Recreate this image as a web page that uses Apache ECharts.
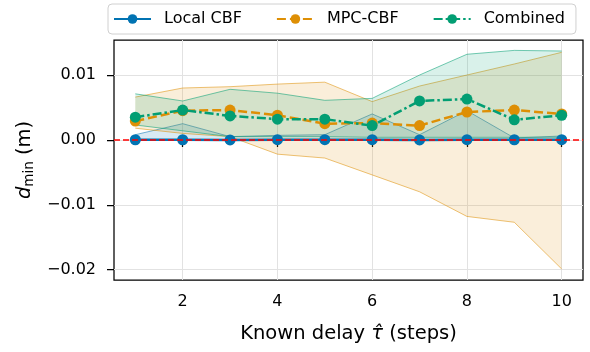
<!DOCTYPE html>
<html><head><meta charset="utf-8">
<script src="https://cdn.jsdelivr.net/npm/echarts@6/dist/echarts.min.js"></script>
<style>html,body{margin:0;padding:0;background:#fff}#c{width:590px;height:352px}</style>
</head><body><div id="c"></div>
<script>
const steps = [1, 2, 3, 4, 5, 6, 7, 8, 9, 10];
const xTicks = [2, 4, 6, 8, 10];
const yTicks = [-0.02, -0.01, 0, 0.01];

const localMean = [0.00002, 0.00002, 0.0, 0.00003, 0.00003, 0.00003, 0.0, 0.00003, 0.00002, 0.00003];
const localLo   = [0.0, 0.0, 0.0, 0.0, 0.0, 0.0, 0.0, 0.0, 0.0, 0.0];
const localHi   = [0.0008, 0.0025, 0.0005, 0.0007, 0.0008, 0.0040, 0.0008, 0.0045, 0.0003, 0.0006];

const mpcMean = [0.0029, 0.0045, 0.0046, 0.0038, 0.0025, 0.0026, 0.0022, 0.0043, 0.0046, 0.0040];
const mpcLo   = [0.0018, 0.0010, 0.0005, -0.0022, -0.0028, -0.0054, -0.0080, -0.0118, -0.0127, -0.0199];
const mpcHi   = [0.0066, 0.0080, 0.0082, 0.0086, 0.0089, 0.0059, 0.0083, 0.0100, 0.0117, 0.0135];

const combMean = [0.0035, 0.0046, 0.0037, 0.0032, 0.0032, 0.0022, 0.0060, 0.0063, 0.0031, 0.0038];
const combLo   = [0.0023, 0.0014, 0.0005, 0.0005, 0.0005, 0.0004, 0.0004, 0.0004, 0.0004, 0.0004];
const combHi   = [0.0071, 0.0060, 0.0078, 0.0072, 0.0061, 0.0064, 0.0100, 0.0132, 0.0138, 0.0137];

const C_BLUE = '#0173B2', C_ORANGE = '#DE8F05', C_GREEN = '#029E73';
const FONT = 'DejaVu Sans';

function band(lo, hi, color, z) {
  return {
    type: 'custom', silent: true, z: z,
    data: [[steps[0], lo[0]]],
    renderItem: function (params, api) {
      const up = steps.map((x, i) => api.coord([x, hi[i]]));
      const dn = steps.map((x, i) => api.coord([x, lo[i]]));
      const poly = up.concat(dn.slice().reverse());
      return { type: 'group', children: [
        { type: 'polygon', shape: { points: poly }, style: { fill: color, opacity: 0.15 } },
        { type: 'polyline', shape: { points: up }, style: { stroke: color, fill: null, lineWidth: 1, opacity: 0.55 } },
        { type: 'polyline', shape: { points: dn }, style: { stroke: color, fill: null, lineWidth: 1, opacity: 0.55 } }
      ]};
    }
  };
}
function pts(arr) { return steps.map((x, i) => [x, arr[i]]); }
function line(name, arr, color, type, z) {
  return {
    name: name, type: 'line', data: pts(arr), z: z,
    symbol: 'circle', symbolSize: 11, showSymbol: true,
    lineStyle: { color: color, width: 2.5, type: type },
    itemStyle: { color: color }
  };
}

const chart = echarts.init(document.getElementById('c'), null, { renderer: 'canvas' });
chart.setOption({
  animation: false,
  backgroundColor: '#fff',
  textStyle: { fontFamily: FONT },
  legend: {
    data: ['Local CBF', 'MPC-CBF', 'Combined'],
    left: 108, top: 4,
    padding: [7, 11, 7, 5],
    itemWidth: 37, itemHeight: 12, itemGap: 34,
    borderColor: '#d0d0d0', borderWidth: 1, borderRadius: 4,
    backgroundColor: '#fff',
    textStyle: { fontFamily: FONT, fontSize: 16, color: '#000', padding: [0, 0, 0, 8] }
  },
  grid: { left: 114, right: 7, top: 40, bottom: 72, show: true, borderColor: '#000', borderWidth: 1.25, backgroundColor: 'transparent' },
  xAxis: {
    type: 'value', min: 0.55, max: 10.45, splitNumber: 5,
    name: 'Known delay {t|τ̂} (steps)', nameLocation: 'middle', nameGap: 44,
    nameTextStyle: { fontFamily: FONT, fontSize: 19.5, color: '#000',
      rich: { t: { fontFamily: FONT, fontSize: 19.5, fontStyle: 'italic', color: '#000' } } },
    axisLine: { show: false },
    axisTick: { show: true, length: 7, inside: false, customValues: xTicks, lineStyle: { color: '#000', width: 1.25 } },
    axisLabel: { customValues: xTicks, fontFamily: FONT, fontSize: 16, color: '#000', margin: 14 },
    splitLine: { show: true, lineStyle: { color: '#e2e2e2', width: 1 } }
  },
  yAxis: {
    type: 'value', min: -0.0216, max: 0.0154, splitNumber: 5,
    name: '{d|d}{s|min} (m)', nameLocation: 'middle', nameGap: 76,
    nameTextStyle: { fontFamily: FONT, fontSize: 19.5, color: '#000',
      rich: {
        d: { fontFamily: FONT, fontSize: 19.5, fontStyle: 'italic', color: '#000' },
        s: { fontFamily: FONT, fontSize: 13.5, color: '#000', padding: [8, 0, 0, 0] }
      } },
    axisLine: { show: false },
    axisTick: { show: true, length: 7, inside: false, customValues: yTicks, lineStyle: { color: '#000', width: 1.25 } },
    axisLabel: { customValues: yTicks, fontFamily: FONT, fontSize: 16, color: '#000', margin: 18,
      formatter: function (v) { return (v < -1e-9 ? '\u2212' : '') + Math.abs(v).toFixed(2); } },
    splitLine: { show: true, lineStyle: { color: '#e2e2e2', width: 1 } }
  },
  series: [
    band(localLo, localHi, C_BLUE, 1),
    band(mpcLo, mpcHi, C_ORANGE, 1),
    band(combLo, combHi, C_GREEN, 1),
    Object.assign(line('Local CBF', localMean, C_BLUE, 'solid', 3), {
      markLine: { silent: true, symbol: 'none', label: { show: false }, z: 10,
        lineStyle: { color: '#ff0000', width: 1.6, type: [6, 3] },
        data: [{ yAxis: 0 }] }
    }),
    line('MPC-CBF', mpcMean, C_ORANGE, [9, 4], 4),
    line('Combined', combMean, C_GREEN, [9, 3, 2.5, 3], 5)
  ]
});
</script></body></html>
